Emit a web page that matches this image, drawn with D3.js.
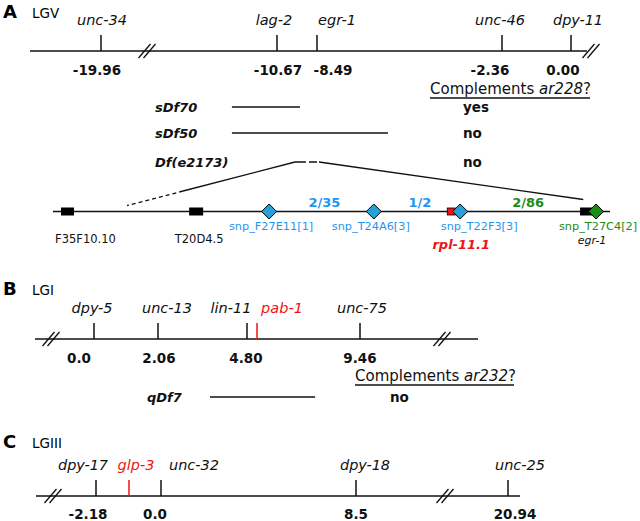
<!DOCTYPE html>
<html>
<head>
<meta charset="utf-8">
<script src="https://cdn.jsdelivr.net/npm/d3@7"></script>
<style>
  body { margin: 0; background: #fff; }
  svg { font-family: "DejaVu Sans", sans-serif; }
</style>
</head>
<body>
<svg id="fig" width="640" height="521"></svg>
<script>
'use strict';

// ---- data: panel A, LGV ----
const lgvGenes = ['unc-34', 'lag-2', 'egr-1', 'unc-46', 'dpy-11'];
const lgvCM = [-19.96, -10.67, -8.49, -2.36, 0.00];
const lgvCMLabels = ['-19.96', '-10.67', '-8.49', '-2.36', '0.00'];
const lgvDfs = ['sDf70', 'sDf50', 'Df(e2173)'];
const lgvDfLeft = [-13.05, -13.05, -9.69];
const lgvDfRight = [-9.42, -6.14, -8.49];
const lgvComplements = ['yes', 'no', 'no'];
// physical interval under Df(e2173), schematic units 0..100
const trackGenes = ['F35F10.10', 'T20D4.5', 'rpl-11.1', 'egr-1'];
const trackGenePos = [2.6, 25.7, 71.5, 95.7];
const snps = ['snp_F27E11[1]', 'snp_T24A6[3]', 'snp_T22F3[3]', 'snp_T27C4[2]'];
const snpPos = [38.8, 57.6, 73.1, 97.5];
const recombinants = ['2/35', '1/2', '2/86'];
const dfTrackEnds = [13.3, 95.2];

// ---- data: panel B, LGI ----
const lgiGenes = ['dpy-5', 'unc-13', 'lin-11', 'pab-1', 'unc-75'];
const lgiCM = [0.0, 2.06, 4.80, 5.1, 9.46];
const lgiCMLabels = ['0.0', '2.06', '4.80', '', '9.46'];
const lgiDfs = ['qDf7'];
const lgiDfLeft = [3.66];
const lgiDfRight = [7.56];
const lgiComplements = ['no'];

// ---- data: panel C, LGIII ----
const lgiiiGenes = ['dpy-17', 'glp-3', 'unc-32', 'dpy-18', 'unc-25'];
const lgiiiCM = [-2.18, -1.0, 0.0, 8.5, 20.94];
const lgiiiCMLabels = ['-2.18', '', '0.0', '8.5', '20.94'];

const RED = '#f01414', BLUE = '#1e96f0', GREEN = '#1a8c1a', SNPFILL = '#2aa0d8';
const svg = d3.select('#fig');

// schematic maps: spacing is not to scale, so each map is a polylinear scale
const xA = d3.scaleLinear().domain(lgvCM).range([101, 277, 317, 502, 571]);
const xB = d3.scaleLinear().domain(lgiCM).range([94, 158, 247, 257, 360]);
const xC = d3.scaleLinear().domain(lgiiiCM).range([96, 129, 161, 356, 508]);
const xT = d3.scaleLinear().domain([0, 100]).range([53, 610]);

// panel letter and linkage group name
function header(letter, lg, y) {
  svg.append('text').attr('x', 3).attr('y', y).attr('font-size', 18)
    .attr('font-weight', 'bold').text(letter);
  svg.append('text').attr('x', 32).attr('y', y).attr('font-size', 13.5).text(lg);
}

// the "//" break symbol
function breakMark(cx, cy) {
  [-2.5, 2.5].forEach(o => {
    svg.append('line')
      .attr('x1', cx + o - 6).attr('y1', cy + 7)
      .attr('x2', cx + o + 6).attr('y2', cy - 7)
      .attr('stroke', '#111').attr('stroke-width', 1.3);
  });
}

// one genetic map line with ticks, gene names above and cM values below
function geneMap(opt) {
  const g = svg.append('g');
  g.append('line').attr('x1', opt.x0).attr('x2', opt.x1)
    .attr('y1', opt.y).attr('y2', opt.y)
    .attr('stroke', '#111').attr('stroke-width', 1.5);
  const loci = opt.genes.map((name, i) => ({
    name, cm: opt.cm[i], label: opt.labels[i], red: opt.red.includes(name),
    gdx: opt.geneDx[i], ndx: opt.numDx[i],
  }));
  g.selectAll('line.tick').data(loci).join('line').attr('class', 'tick')
    .attr('x1', d => opt.x(d.cm)).attr('x2', d => opt.x(d.cm))
    .attr('y1', opt.y - 16).attr('y2', opt.y)
    .attr('stroke', d => d.red ? RED : '#111').attr('stroke-width', 1.5);
  g.selectAll('text.gene').data(loci).join('text').attr('class', 'gene')
    .attr('x', d => opt.x(d.cm) + d.gdx).attr('y', opt.y - 26)
    .attr('text-anchor', 'middle').attr('font-size', 14.5).attr('font-style', 'italic')
    .attr('fill', d => d.red ? RED : '#111').text(d => d.name);
  g.selectAll('text.cm').data(loci.filter(d => d.label)).join('text').attr('class', 'cm')
    .attr('x', d => opt.x(d.cm) + d.ndx).attr('y', opt.y + (opt.numGap || 24))
    .attr('text-anchor', 'middle').attr('font-size', 13.5).attr('font-weight', 'bold')
    .attr('fill', '#111').text(d => d.label);
  opt.breaks.forEach(b => breakMark(b, opt.y));
}

// deficiency rows with the complementation column
function dfTable(opt) {
  const head = svg.append('text').attr('x', opt.hx).attr('y', opt.hy)
    .attr('font-size', 15).attr('fill', '#111');
  head.append('tspan').text('Complements ');
  head.append('tspan').attr('font-style', 'italic').text(opt.allele);
  head.append('tspan').text('?');
  svg.append('line').attr('x1', opt.hx).attr('x2', opt.hx + opt.uw)
    .attr('y1', opt.hy + 4).attr('y2', opt.hy + 4)
    .attr('stroke', '#111').attr('stroke-width', 1.3);
  const rows = opt.dfs.map((name, i) => ({
    name, l: opt.left[i], r: opt.right[i], c: opt.comp[i], y: opt.rowY[i],
    dash: name === 'Df(e2173)',
  }));
  const g = svg.append('g');
  g.selectAll('text.df').data(rows).join('text').attr('class', 'df')
    .attr('x', opt.lx).attr('y', d => d.y + 5)
    .attr('font-size', 13).attr('font-style', 'italic').attr('font-weight', 'bold')
    .attr('fill', '#111').text(d => d.name);
  g.selectAll('line.df').data(rows).join('line').attr('class', 'df')
    .attr('x1', d => opt.x(d.l)).attr('x2', d => opt.x(d.r))
    .attr('y1', d => d.y).attr('y2', d => d.y)
    .attr('stroke', '#111').attr('stroke-width', 1.5)
    .attr('stroke-dasharray', d => d.dash ? '11,3' : null);
  g.selectAll('text.comp').data(rows).join('text').attr('class', 'comp')
    .attr('x', opt.cx).attr('y', d => d.y + 5)
    .attr('font-size', 13.5).attr('font-weight', 'bold')
    .attr('fill', '#111').text(d => d.c);
  return rows;
}

// ---------- Panel A ----------
header('A', 'LGV', 18);
geneMap({
  x: xA, y: 51, x0: 30, x1: 587, genes: lgvGenes, cm: lgvCM, labels: lgvCMLabels,
  red: [], geneDx: [1, -3, 20, -2, 7], numDx: [-4, 1, 16, -12, -8], breaks: [147, 591],
});
const rowsA = dfTable({
  x: xA, dfs: lgvDfs, left: lgvDfLeft, right: lgvDfRight, comp: lgvComplements,
  rowY: [107, 133, 162], lx: 155, cx: 463, hx: 430, hy: 94, uw: 160, allele: 'ar228',
});

// zoom lines from Df(e2173) down to the physical interval
const trackY = 211.5;
const dfRow = rowsA[2];
svg.append('line')
  .attr('x1', xA(dfRow.l)).attr('y1', dfRow.y)
  .attr('x2', xT(dfTrackEnds[0]) + 56).attr('y2', dfRow.y + 29)
  .attr('stroke', '#111').attr('stroke-width', 1.3);
svg.append('line')
  .attr('x1', xT(dfTrackEnds[0]) + 56).attr('y1', dfRow.y + 29)
  .attr('x2', xT(dfTrackEnds[0])).attr('y2', trackY - 6)
  .attr('stroke', '#111').attr('stroke-width', 1.3).attr('stroke-dasharray', '4,3');
svg.append('line')
  .attr('x1', xA(dfRow.r) + 2).attr('y1', dfRow.y)
  .attr('x2', xT(dfTrackEnds[1])).attr('y2', trackY - 12)
  .attr('stroke', '#111').attr('stroke-width', 1.3);

// physical track
svg.append('line').attr('x1', xT(0)).attr('x2', xT(100))
  .attr('y1', trackY).attr('y2', trackY).attr('stroke', '#111').attr('stroke-width', 1.5);

const genesT = trackGenes.map((name, i) => ({ name, p: trackGenePos[i] }));
const boxW = { 'F35F10.10': 13, 'T20D4.5': 14, 'rpl-11.1': 8, 'egr-1': 12 };
svg.selectAll('rect.gene').data(genesT).join('rect').attr('class', 'gene')
  .attr('x', d => xT(d.p) - boxW[d.name] / 2)
  .attr('y', d => d.name === 'rpl-11.1' ? trackY - 3.5 : trackY - 4)
  .attr('width', d => boxW[d.name])
  .attr('height', d => d.name === 'rpl-11.1' ? 7 : 8)
  .attr('fill', d => d.name === 'rpl-11.1' ? RED : '#000')
  .attr('stroke', d => d.name === 'rpl-11.1' ? '#000' : 'none').attr('stroke-width', 0.8);

const snpT = snps.map((name, i) => ({ name, p: snpPos[i], last: i === snps.length - 1 }));
svg.selectAll('path.snp').data(snpT).join('path').attr('class', 'snp')
  .attr('transform', d => `translate(${xT(d.p)},${trackY})`)
  .attr('d', 'M0,-7.5 L7.5,0 L0,7.5 L-7.5,0 Z')
  .attr('fill', d => d.last ? GREEN : SNPFILL).attr('stroke', '#000').attr('stroke-width', 1);

const snpDx = [2, -3, 19, 2];
svg.selectAll('text.snp').data(snpT).join('text').attr('class', 'snp')
  .attr('x', (d, i) => xT(d.p) + snpDx[i]).attr('y', 230)
  .attr('text-anchor', 'middle').attr('font-size', 11.3)
  .attr('fill', d => d.last ? GREEN : BLUE).text(d => d.name);

// recombinant ratios between neighbouring SNPs
const recT = recombinants.map((r, i) => ({ r, p: (snpPos[i] + snpPos[i + 1]) / 2, last: i === recombinants.length - 1 }));
svg.selectAll('text.rec').data(recT).join('text').attr('class', 'rec')
  .attr('x', d => xT(d.p) + (d.last ? 0 : 3)).attr('y', 207)
  .attr('text-anchor', 'middle').attr('font-size', 13).attr('font-weight', 'bold')
  .attr('fill', d => d.last ? GREEN : BLUE).text(d => d.r);

// gene labels under the track
const tLab = {
  'F35F10.10': { dx: 18, y: 243, size: 11.5, color: '#111', style: 'normal', weight: 'normal' },
  'T20D4.5': { dx: 3, y: 243, size: 11.5, color: '#111', style: 'normal', weight: 'normal' },
  'rpl-11.1': { dx: 10, y: 249, size: 13, color: RED, style: 'italic', weight: 'bold' },
  'egr-1': { dx: 6, y: 243.5, size: 11, color: '#111', style: 'italic', weight: 'normal' },
};
svg.selectAll('text.tgene').data(genesT).join('text').attr('class', 'tgene')
  .attr('x', d => xT(d.p) + tLab[d.name].dx).attr('y', d => tLab[d.name].y)
  .attr('text-anchor', 'middle').attr('font-size', d => tLab[d.name].size)
  .attr('font-style', d => tLab[d.name].style).attr('font-weight', d => tLab[d.name].weight)
  .attr('fill', d => tLab[d.name].color).text(d => d.name);

// ---------- Panel B ----------
header('B', 'LGI', 295);
geneMap({
  x: xB, y: 339, x0: 35, x1: 478, genes: lgiGenes, cm: lgiCM, labels: lgiCMLabels,
  red: ['pab-1'], geneDx: [-2, 9, -16, 25, 2], numDx: [-15, 1, -1, 0, 0], breaks: [51, 442],
});
dfTable({
  x: xB, dfs: lgiDfs, left: lgiDfLeft, right: lgiDfRight, comp: lgiComplements,
  rowY: [397], lx: 147, cx: 390, hx: 355, hy: 381, uw: 159, allele: 'ar232',
});

// ---------- Panel C ----------
header('C', 'LGIII', 448);
geneMap({
  x: xC, y: 496, x0: 36, x1: 520, genes: lgiiiGenes, cm: lgiiiCM, labels: lgiiiCMLabels,
  red: ['glp-3'], geneDx: [-13, 7, 33, 9, 12], numDx: [-8, 0, -6, 0, 7], breaks: [53, 445],
  numGap: 22.5,
});
</script>
</body>
</html>
